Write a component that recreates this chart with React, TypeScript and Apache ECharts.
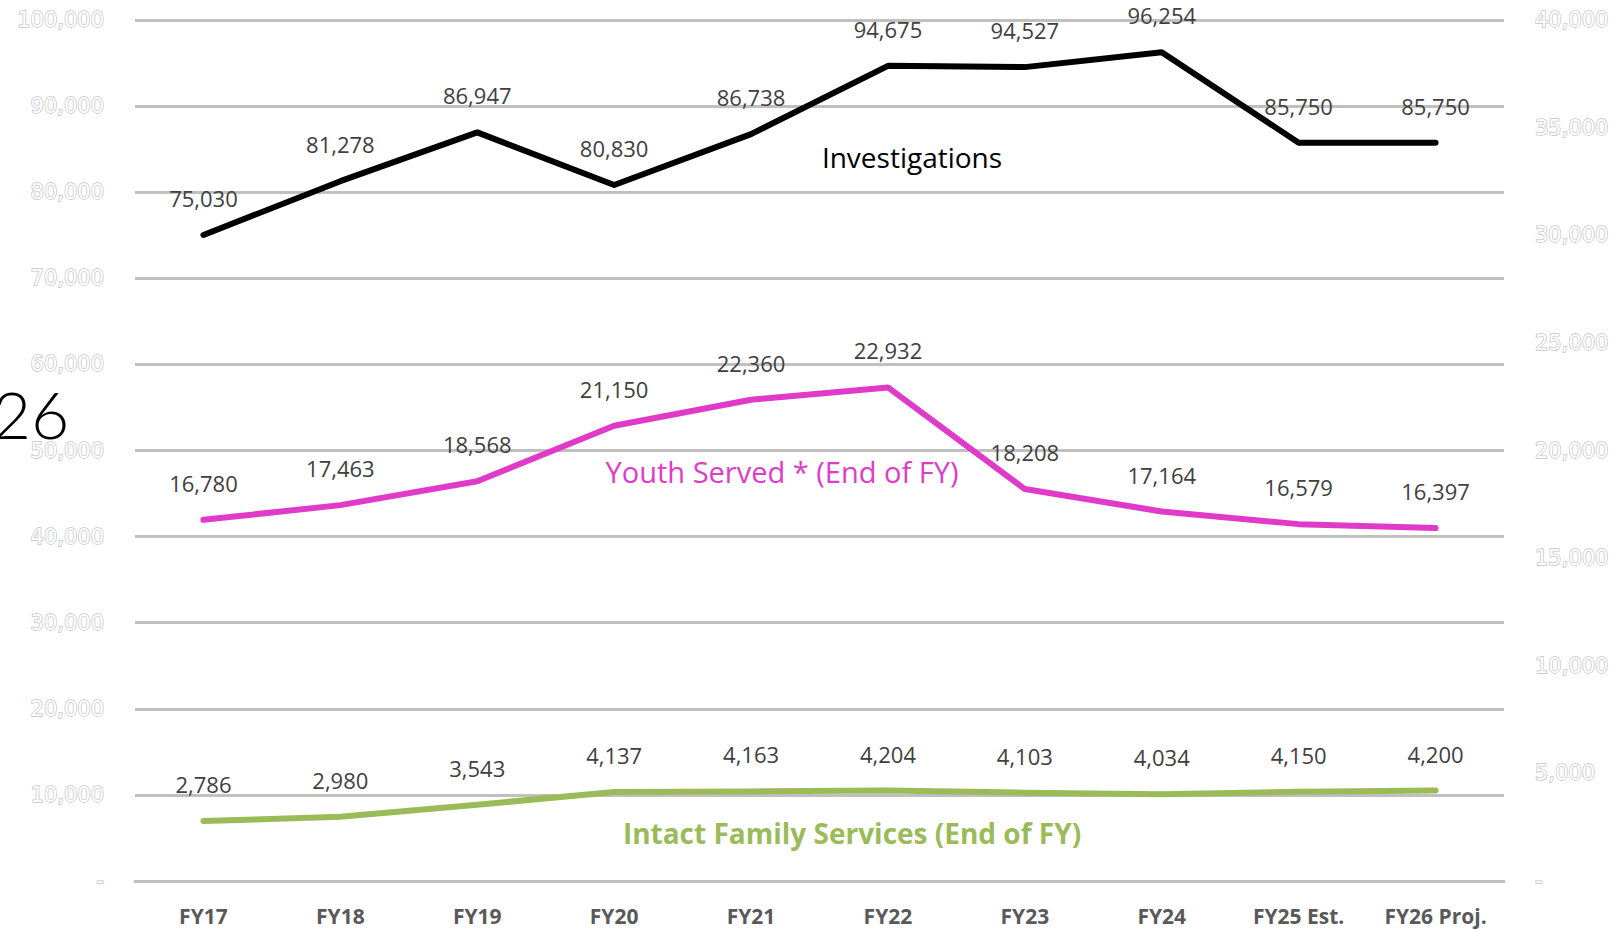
import React, { useEffect, useRef } from "react";
import * as echarts from "echarts";

const categories = ["FY17", "FY18", "FY19", "FY20", "FY21", "FY22", "FY23", "FY24", "FY25 Est.", "FY26 Proj."];
const investigations = [75030, 81278, 86947, 80830, 86738, 94675, 94527, 96254, 85750, 85750];
const youthServed = [16780, 17463, 18568, 21150, 22360, 22932, 18208, 17164, 16579, 16397];
const intactFamily = [2786, 2980, 3543, 4137, 4163, 4204, 4103, 4034, 4150, 4200];

const leftMax = 100000;
const leftInterval = 10000;
const rightMax = 40000;
const rightInterval = 5000;

const fmt = (v: number) => (v === 0 ? "-" : v.toLocaleString("en-US"));

export default function App() {
  const ref = useRef<HTMLDivElement>(null);
  useEffect(() => {
    if (!ref.current) return;
    const chart = echarts.init(ref.current, undefined, { renderer: "svg" });
    const labelStyle = {
      show: true,
      position: "top" as const,
      distance: 24,
      offset: [2, 0],
      color: "#404040",
      fontFamily: "Open Sans",
      fontSize: 22,
      formatter: (p: any) => fmt(p.value),
    };
    const axisLabelStyle = {
      color: "#ffffff",
      textBorderColor: "#c4c4c4",
      textBorderWidth: 1.5,
      fontFamily: "DejaVu Sans",
      fontSize: 21,
      margin: 31,
      formatter: (v: number) => fmt(v),
    };
    const mk = (name: string, data: number[], color: string, axis: number) => ({
      name,
      type: "line",
      yAxisIndex: axis,
      data,
      showSymbol: true,
      showAllSymbol: true,
      symbol: "circle",
      symbolSize: 4,
      itemStyle: { color, borderWidth: 0 },
      lineStyle: { color, width: 6, cap: "round", join: "round" },
      label: labelStyle,
      labelLayout: { hideOverlap: false },
    });
    chart.setOption({
      animation: false,
      backgroundColor: "#ffffff",
      grid: { left: 135, right: 120, top: 20, bottom: 48, containLabel: false },
      xAxis: {
        type: "category",
        data: categories,
        boundaryGap: true,
        axisLine: { show: true, lineStyle: { color: "#c0c0c0", width: 3 } },
        axisTick: { show: false },
        axisLabel: {
          color: "#595959",
          fontFamily: "Open Sans",
          fontWeight: "bold",
          fontSize: 21,
          margin: 24,
        },
      },
      yAxis: [
        {
          type: "value",
          position: "left",
          min: 0,
          max: leftMax,
          interval: leftInterval,
          axisLine: { show: false },
          axisTick: { show: false },
          splitLine: { show: true, lineStyle: { color: "#c0c0c0", width: 3 } },
          axisLabel: axisLabelStyle,
        },
        {
          type: "value",
          position: "right",
          min: 0,
          max: rightMax,
          interval: rightInterval,
          axisLine: { show: false },
          axisTick: { show: false },
          splitLine: { show: false },
          axisLabel: axisLabelStyle,
        },
      ],
      series: [
        mk("Investigations", investigations, "#000000", 0),
        mk("Youth Served * (End of FY)", youthServed, "#E03AC9", 1),
        mk("Intact Family Services (End of FY)", intactFamily, "#9BBB59", 1),
      ],
      graphic: [
        {
          type: "text",
          x: 912,
          y: 157,
          style: {
            text: "Investigations",
            fill: "#000000",
            font: "28px 'Open Sans'",
            align: "center",
            verticalAlign: "middle",
          },
        },
        {
          type: "text",
          x: 782,
          y: 471,
          style: {
            text: "Youth Served * (End of FY)",
            fill: "#E03AC9",
            font: "29px 'Open Sans'",
            align: "center",
            verticalAlign: "middle",
          },
        },
        {
          type: "text",
          x: 852,
          y: 833,
          style: {
            text: "Intact Family Services (End of FY)",
            fill: "#9BBB59",
            font: "bold 28px 'Open Sans'",
            align: "center",
            verticalAlign: "middle",
          },
        },
        {
          type: "text",
          x: 31,
          y: 413,
          style: {
            text: "26",
            fill: "#000000",
            font: "300 66px Lato",
            align: "center",
            verticalAlign: "middle",
          },
        },
      ],
    });
    return () => chart.dispose();
  }, []);
  return (
    <div
      ref={ref}
      style={{ position: "fixed", left: 0, top: 0, width: 1624, height: 929 }}
    />
  );
}
